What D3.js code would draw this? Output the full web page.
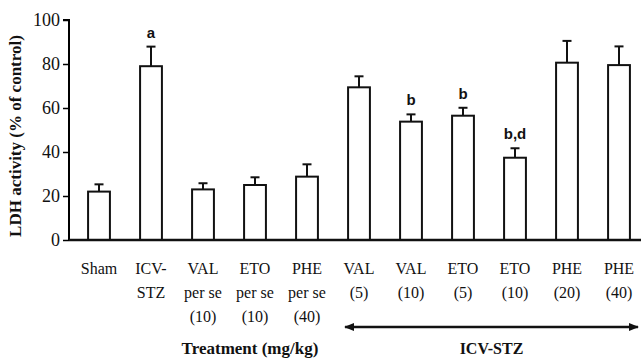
<!DOCTYPE html>
<html lang="en">
<head>
    <meta charset="UTF-8">
    <title>LDH activity</title>
    <style>
        body { margin: 0; background: #fff; }
        .serif { font-family: "Liberation Serif", "Times New Roman", serif; }
        .sans { font-family: "Liberation Sans", Arial, sans-serif; }
    </style>
</head>
<body>
<script src="https://cdn.jsdelivr.net/npm/d3@7"></script>
<script>
    var groups = ['Sham', 'ICV-STZ', 'VAL per se', 'ETO per se', 'PHE per se',
        'VAL 5', 'VAL 10', 'ETO 5', 'ETO 10', 'PHE 20', 'PHE 40'];
    var labelLines = [
        ['Sham'], ['ICV-', 'STZ'], ['VAL', 'per se', '(10)'], ['ETO', 'per se', '(10)'],
        ['PHE', 'per se', '(40)'], ['VAL', '(5)'], ['VAL', '(10)'], ['ETO', '(5)'],
        ['ETO', '(10)'], ['PHE', '(20)'], ['PHE', '(40)']
    ];
    var means = [22, 79, 23, 25, 28.8, 69.4, 53.8, 56.5, 37.4, 80.6, 79.5];
    var sem = [3.3, 8.9, 2.8, 3.5, 5.6, 5, 3.3, 3.6, 4.3, 9.9, 8.5];
    var marks = ['', 'a', '', '', '', '', 'b', 'b', 'b,d', '', ''];
    var yTicks = [0, 20, 40, 60, 80, 100];

    var width = 641, height = 358;
    var svg = d3.select('body').append('svg')
            .attr('width', width)
            .attr('height', height);

    var x = d3.scaleBand()
            .domain(groups)
            .range([73, 645])
            .paddingInner(0.58)
            .paddingOuter(0.29);

    var y = d3.scaleLinear()
            .domain([0, 100])
            .range([240, 20]);

    // y axis
    var yAxis = svg.append('g')
            .attr('transform', 'translate(69,0)')
            .call(d3.axisLeft(y).tickValues(yTicks).tickSize(6).tickPadding(3));
    yAxis.attr('font-family', null).attr('font-size', null);
    yAxis.select('.domain').attr('stroke-width', 2).attr('d', 'M-6,' + y(100) + 'H0V' + y(0));
    yAxis.selectAll('.tick line').attr('stroke-width', 1.5);
    yAxis.selectAll('.tick text')
            .attr('class', 'serif')
            .style('font-size', '18px')
            .attr('fill', '#111');

    svg.append('text')
            .attr('class', 'serif')
            .attr('transform', 'translate(21,' + ((y(0) + y(100)) / 2 + 6) + ') rotate(-90)')
            .attr('text-anchor', 'middle')
            .style('font-weight', 'bold')
            .style('font-size', '17px')
            .attr('fill', '#111')
            .text('LDH activity (% of control)');

    // bars
    var bar = svg.selectAll('g.bar')
            .data(groups)
            .enter()
            .append('g')
            .attr('class', 'bar');

    bar.append('rect')
            .attr('x', function (d) { return x(d); })
            .attr('y', function (d, i) { return y(means[i]); })
            .attr('width', x.bandwidth())
            .attr('height', function (d, i) { return y(0) - y(means[i]); })
            .attr('fill', '#fff')
            .attr('stroke', '#111')
            .attr('stroke-width', 2);

    bar.append('line')
            .attr('x1', function (d) { return x(d) + x.bandwidth() / 2; })
            .attr('x2', function (d) { return x(d) + x.bandwidth() / 2; })
            .attr('y1', function (d, i) { return y(means[i]); })
            .attr('y2', function (d, i) { return y(means[i] + sem[i]); })
            .attr('stroke', '#111')
            .attr('stroke-width', 2);

    bar.append('line')
            .attr('x1', function (d) { return x(d) + x.bandwidth() / 2 - 4.5; })
            .attr('x2', function (d) { return x(d) + x.bandwidth() / 2 + 4.5; })
            .attr('y1', function (d, i) { return y(means[i] + sem[i]); })
            .attr('y2', function (d, i) { return y(means[i] + sem[i]); })
            .attr('stroke', '#111')
            .attr('stroke-width', 2);

    bar.append('text')
            .attr('class', 'sans')
            .attr('x', function (d) { return x(d) + x.bandwidth() / 2; })
            .attr('y', function (d, i) { return y(means[i] + sem[i]) - 9; })
            .attr('text-anchor', 'middle')
            .style('font-weight', 'bold')
            .style('font-size', '15px')
            .attr('fill', '#111')
            .text(function (d, i) { return marks[i]; });

    // x axis line
    svg.append('line')
            .attr('x1', 69).attr('x2', width)
            .attr('y1', y(0)).attr('y2', y(0))
            .attr('stroke', '#111')
            .attr('stroke-width', 2.5);

    // category labels
    var lab = svg.selectAll('text.cat')
            .data(groups)
            .enter()
            .append('text')
            .attr('class', 'cat serif')
            .attr('text-anchor', 'middle')
            .style('font-size', '16px')
            .attr('fill', '#111');

    lab.selectAll('tspan')
            .data(function (d, i) { return labelLines[i].map(function (t) { return {t: t, g: d}; }); })
            .enter()
            .append('tspan')
            .attr('x', function (d) { return x(d.g) + x.bandwidth() / 2; })
            .attr('y', function (d, j) { return 274 + j * 24; })
            .text(function (d) { return d.t; });

    // ICV-STZ arrow
    var defs = svg.append('defs');
    defs.append('marker')
            .attr('id', 'head')
            .attr('viewBox', '0 0 10 10')
            .attr('refX', 9).attr('refY', 5)
            .attr('markerWidth', 4).attr('markerHeight', 4)
            .attr('orient', 'auto-start-reverse')
            .append('path')
            .attr('d', 'M0,1L10,5L0,9z')
            .attr('fill', '#111');

    var ax1 = x('VAL 5') - 3, ax2 = x('PHE 40') + x.bandwidth() + 8;
    svg.append('line')
            .attr('x1', ax1).attr('x2', ax2)
            .attr('y1', 327).attr('y2', 327)
            .attr('stroke', '#111')
            .attr('stroke-width', 2.5)
            .attr('marker-start', 'url(#head)')
            .attr('marker-end', 'url(#head)');

    svg.append('text')
            .attr('class', 'serif')
            .attr('x', (ax1 + ax2) / 2)
            .attr('y', 354)
            .attr('text-anchor', 'middle')
            .style('font-weight', 'bold')
            .style('font-size', '16px')
            .attr('fill', '#111')
            .text('ICV-STZ');

    svg.append('text')
            .attr('class', 'serif')
            .attr('x', 250)
            .attr('y', 354)
            .attr('text-anchor', 'middle')
            .style('font-weight', 'bold')
            .style('font-size', '17px')
            .attr('fill', '#111')
            .text('Treatment (mg/kg)');
</script>
</body>
</html>
